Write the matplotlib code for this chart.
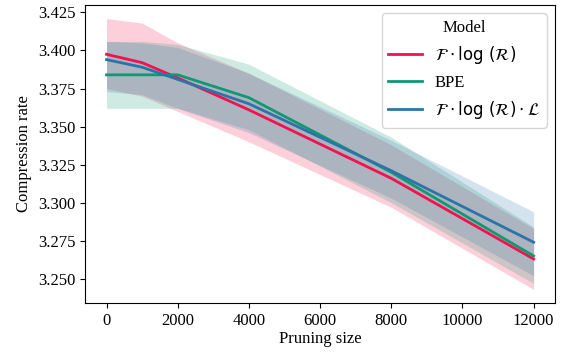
import matplotlib
matplotlib.use("Agg")
import matplotlib.pyplot as plt
import numpy as np

# Pruning sizes and compression rates (mean with lower/upper band)
pruning = [0, 1000, 2000, 4000, 8000, 12000]

flr_mean = [3.3975, 3.392, 3.382, 3.361, 3.316, 3.263]
flr_low = [3.375, 3.370, 3.360, 3.340, 3.297, 3.243]
flr_high = [3.421, 3.418, 3.405, 3.385, 3.338, 3.283]

bpe_mean = [3.384, 3.384, 3.384, 3.369, 3.320, 3.265]
bpe_low = [3.362, 3.362, 3.362, 3.348, 3.300, 3.247]
bpe_high = [3.406, 3.406, 3.404, 3.391, 3.343, 3.284]

flrl_mean = [3.394, 3.389, 3.381, 3.365, 3.321, 3.274]
flrl_low = [3.373, 3.371, 3.362, 3.346, 3.303, 3.252]
flrl_high = [3.406, 3.405, 3.402, 3.385, 3.341, 3.294]

labels = [r"$\mathcal{F} \cdot \log\,(\mathcal{R})$", "BPE",
          r"$\mathcal{F} \cdot \log\,(\mathcal{R}) \cdot \mathcal{L}$"]
colors = ["#F2124F", "#119873", "#2B74A8"]

plt.rcParams["font.family"] = ["Liberation Serif", "DejaVu Serif"]
plt.rcParams["mathtext.fontset"] = "dejavusans"
plt.rcParams["font.size"] = 12

fig = plt.figure(figsize=(5.64, 3.56), dpi=100)
ax = fig.add_axes([0.151, 0.149, 0.833, 0.837])

series = [(flr_mean, flr_low, flr_high),
          (bpe_mean, bpe_low, bpe_high),
          (flrl_mean, flrl_low, flrl_high)]
for (m, lo, hi), lab, c in zip(series, labels, colors):
    ax.fill_between(pruning, lo, hi, color=c, alpha=0.2, linewidth=0)
    ax.plot(pruning, m, color=c, linewidth=2, label=lab)

ax.set_xticks([0, 2000, 4000, 6000, 8000, 10000, 12000])
ax.set_yticks([3.250, 3.275, 3.300, 3.325, 3.350, 3.375, 3.400, 3.425])
ax.yaxis.set_major_formatter(matplotlib.ticker.FormatStrFormatter("%.3f"))
ax.set_xlabel("Pruning size", labelpad=2)
ax.set_ylabel("Compression rate")
ax.legend(title="Model", loc="upper right", fontsize=12, title_fontsize=12)

fig.savefig("out.png", dpi=100)
